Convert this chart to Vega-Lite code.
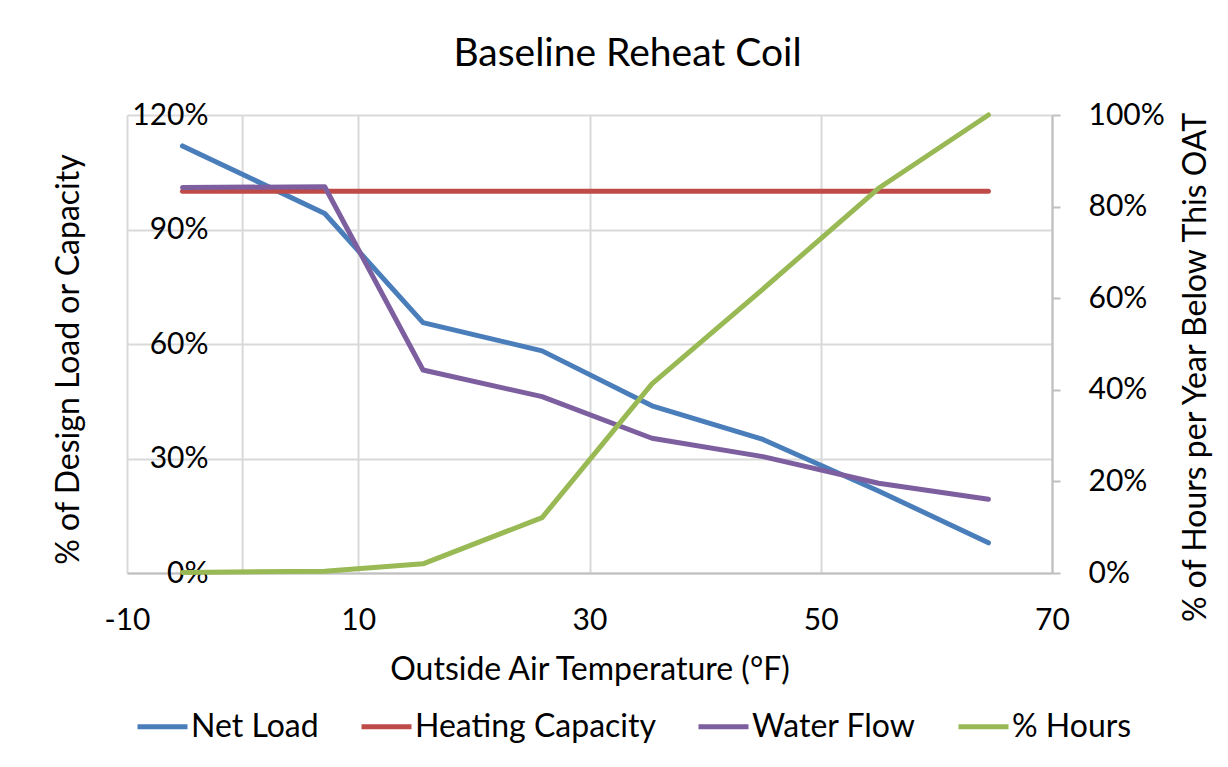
{
  "$schema": "https://vega.github.io/schema/vega-lite/v6.json",
  "width": 925,
  "height": 458,
  "autosize": {"type": "none"},
  "padding": {"left": 127, "top": 115, "right": 176, "bottom": 194},
  "background": "white",
  "config": {
    "font": "Lato",
    "view": {"stroke": null},
    "axis": {
      "labelFont": "Lato",
      "titleFont": "Lato",
      "labelColor": "#000000",
      "titleColor": "#000000",
      "titleFontWeight": "normal",
      "gridColor": "#d9d9d9",
      "gridWidth": 2,
      "domainColor": "#bfbfbf",
      "domainWidth": 2,
      "tickColor": "#bfbfbf",
      "tickWidth": 2
    }
  },
  "title": {
    "text": "Baseline Reheat Coil",
    "font": "Lato",
    "fontSize": 39,
    "fontWeight": "normal",
    "color": "#000000",
    "anchor": "middle",
    "frame": "group",
    "dx": 38,
    "offset": 26
  },
  "data": {
    "values": [
      {"series": "Net Load", "oat": -5.2, "value": 111.9},
      {"series": "Net Load", "oat": 7.1, "value": 94.2},
      {"series": "Net Load", "oat": 15.6, "value": 65.6},
      {"series": "Net Load", "oat": 25.9, "value": 58.2},
      {"series": "Net Load", "oat": 35.4, "value": 43.8},
      {"series": "Net Load", "oat": 45.0, "value": 35.0},
      {"series": "Net Load", "oat": 55.0, "value": 21.5},
      {"series": "Net Load", "oat": 64.5, "value": 7.9},
      {"series": "Heating Capacity", "oat": -5.2, "value": 100},
      {"series": "Heating Capacity", "oat": 7.1, "value": 100},
      {"series": "Heating Capacity", "oat": 15.6, "value": 100},
      {"series": "Heating Capacity", "oat": 25.9, "value": 100},
      {"series": "Heating Capacity", "oat": 35.4, "value": 100},
      {"series": "Heating Capacity", "oat": 45.0, "value": 100},
      {"series": "Heating Capacity", "oat": 55.0, "value": 100},
      {"series": "Heating Capacity", "oat": 64.5, "value": 100},
      {"series": "Water Flow", "oat": -5.2, "value": 101.0},
      {"series": "Water Flow", "oat": 7.1, "value": 101.2},
      {"series": "Water Flow", "oat": 15.6, "value": 53.2},
      {"series": "Water Flow", "oat": 25.9, "value": 46.2},
      {"series": "Water Flow", "oat": 35.4, "value": 35.3},
      {"series": "Water Flow", "oat": 45.0, "value": 30.5},
      {"series": "Water Flow", "oat": 55.0, "value": 23.5},
      {"series": "Water Flow", "oat": 64.5, "value": 19.3},
      {"series": "% Hours", "oat": -5.2, "value": 0.1},
      {"series": "% Hours", "oat": 7.1, "value": 0.4},
      {"series": "% Hours", "oat": 15.6, "value": 2.0},
      {"series": "% Hours", "oat": 25.9, "value": 12.1},
      {"series": "% Hours", "oat": 35.4, "value": 41.3},
      {"series": "% Hours", "oat": 45.0, "value": 62.0},
      {"series": "% Hours", "oat": 55.0, "value": 84.0},
      {"series": "% Hours", "oat": 64.5, "value": 100}
    ]
  },
  "encoding": {
    "x": {
      "field": "oat",
      "type": "quantitative",
      "scale": {"domain": [-10, 70], "nice": false, "zero": false},
      "axis": {
        "title": "Outside Air Temperature (°F)",
        "values": [-10, 10, 30, 50, 70],
        "labelExpr": "datum.value < 0 ? '-' + abs(datum.value) : '' + datum.value",
        "grid": true,
        "domain": true,
        "ticks": false,
        "labelPadding": 32,
        "labelFontSize": 30,
        "labelFlush": false,
        "labelOverlap": false,
        "titleFontSize": 32,
        "titleBaseline": "top",
        "titleY": 81
      }
    }
  },
  "layer": [
    {
      "data": {"values": [{"oat": 0}]},
      "mark": {"type": "rule", "color": "#d9d9d9", "strokeWidth": 2}
    },
    {
      "transform": [{"filter": "datum.series !== '% Hours'"}],
      "mark": {"type": "line", "strokeWidth": 5, "strokeCap": "round", "strokeJoin": "round"},
      "encoding": {
        "y": {
          "field": "value",
          "type": "quantitative",
          "scale": {"domain": [0, 120], "nice": false},
          "axis": {
            "title": "% of Design Load or Capacity",
            "values": [0, 30, 60, 90, 120],
            "labelExpr": "datum.value + '%'",
            "domain": false,
            "ticks": false,
            "grid": true,
            "labelPadding": -81,
            "labelFontSize": 30,
            "labelOverlap": false,
            "titleFontSize": 32,
            "titleAngle": -90,
            "titleX": -59,
            "titleY": 244,
            "titleBaseline": "middle",
            "titleAlign": "center"
          }
        },
        "color": {
          "field": "series",
          "type": "nominal",
          "scale": {
            "domain": ["Net Load", "Heating Capacity", "Water Flow", "% Hours"],
            "range": ["#4A7EBB", "#BE4B48", "#7D5FA0", "#98B954"]
          },
          "legend": {
            "orient": "none",
            "legendX": 8,
            "legendY": 584,
            "direction": "horizontal",
            "title": null,
            "symbolType": "stroke",
            "symbolSize": 2500,
            "symbolStrokeWidth": 5,
            "labelFont": "Lato",
            "labelFontSize": 32,
            "labelColor": "#000000",
            "labelLimit": 500,
            "labelOffset": 1,
            "columnPadding": 32
          }
        }
      }
    },
    {
      "transform": [{"filter": "datum.series === '% Hours'"}],
      "mark": {"type": "line", "strokeWidth": 5, "strokeCap": "round", "strokeJoin": "round"},
      "encoding": {
        "y": {
          "field": "value",
          "type": "quantitative",
          "scale": {"domain": [0, 100], "nice": false},
          "axis": {
            "orient": "right",
            "title": "% of Hours per Year Below This OAT",
            "values": [0, 20, 40, 60, 80, 100],
            "labelExpr": "datum.value + '%'",
            "grid": false,
            "domain": true,
            "ticks": true,
            "tickSize": 8,
            "labelPadding": 28,
            "labelFontSize": 30,
            "labelOverlap": false,
            "titleFontSize": 32,
            "titleAngle": -90,
            "titleX": 143,
            "titleY": 252,
            "titleBaseline": "middle",
            "titleAlign": "center"
          }
        },
        "color": {
          "field": "series",
          "type": "nominal",
          "scale": {
            "domain": ["Net Load", "Heating Capacity", "Water Flow", "% Hours"],
            "range": ["#4A7EBB", "#BE4B48", "#7D5FA0", "#98B954"]
          },
          "legend": {
            "orient": "none",
            "legendX": 8,
            "legendY": 584,
            "direction": "horizontal",
            "title": null,
            "symbolType": "stroke",
            "symbolSize": 2500,
            "symbolStrokeWidth": 5,
            "labelFont": "Lato",
            "labelFontSize": 32,
            "labelColor": "#000000",
            "labelLimit": 500,
            "labelOffset": 1,
            "columnPadding": 32
          }
        }
      }
    }
  ],
  "resolve": {"scale": {"y": "independent"}, "axis": {"y": "independent"}}
}
